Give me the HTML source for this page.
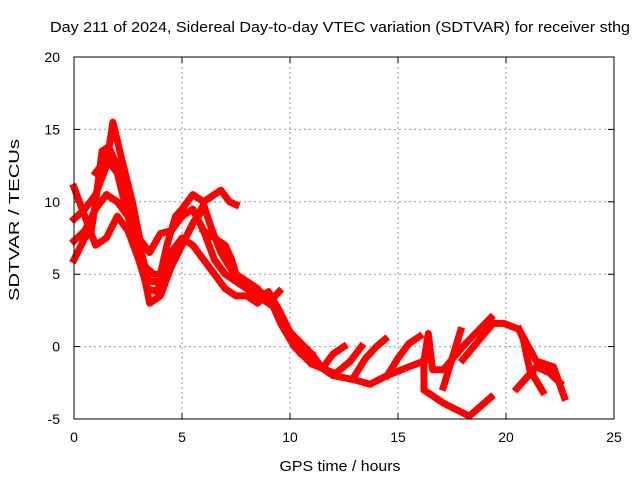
<!DOCTYPE html>
<html><head><meta charset="utf-8"><style>
body{margin:0;background:#fff}
svg{display:block;font-family:"Liberation Sans",sans-serif}
</style></head><body>
<svg width="640" height="480" viewBox="0 0 640 480">
<text x="340" y="32" font-size="15" text-anchor="middle" textLength="580" lengthAdjust="spacingAndGlyphs">Day 211 of 2024, Sidereal Day-to-day VTEC variation (SDTVAR) for receiver sthg</text>
<g id="grid"></g>
<g id="ticks"></g>
<g id="series"></g>
<rect x="74" y="57" width="540" height="362" fill="none" stroke="#000" stroke-width="1"/>
<text x="340" y="471" font-size="15" text-anchor="middle" textLength="121" lengthAdjust="spacingAndGlyphs">GPS time / hours</text>
<text x="19" y="220" font-size="15" text-anchor="middle" textLength="162" lengthAdjust="spacingAndGlyphs" transform="rotate(-90 19 220)">SDTVAR / TECUs</text>
</svg>
<script>
const xTicks=[0,5,10,15,20,25];
const yTicks=[-5,0,5,10,15,20];
const trackA=[[0,8.8],[0.5,9.5],[1,10.5],[1.5,12.5],[1.8,15.5],[2.2,13],[2.7,10],[3.1,7],[3.3,4.5],[3.5,3],[4,3.5],[4.5,5.5],[5,7],[5.5,8.5],[6,9.5]];
const trackB=[[0,6],[0.5,7.5],[0.8,8],[1,10],[1.3,13.5],[1.6,13.8],[2,12.5],[2.5,10],[3,7],[3.3,5.5],[3.7,5],[4,5],[4.3,7],[4.7,9],[5,9.5],[5.5,10.5],[6,10],[6.5,10.5],[6.8,10.8],[7.2,10],[7.5,9.8]];
const trackC=[[0,7.3],[0.5,8],[1,9.5],[1.5,10.5],[2,10],[2.5,9],[3,7.5],[3.5,6.5],[4,7.8],[4.5,8],[5,9],[5.5,9.5],[6,8],[6.5,6],[7,5],[7.5,4.5],[8,4],[8.5,3.5],[9,3],[9.5,2.5],[10,1],[10.5,0],[11,-0.5]];
const trackD=[[0,11],[0.5,9],[1,7],[1.5,7.5],[2,9],[2.5,8],[3,6],[3.5,4.5],[4,4.5],[4.5,6.5],[5,7.5],[5.5,7],[6,6],[6.5,5],[7,4],[7.5,3.5],[8,3.5],[8.5,3],[9,3.8],[9.5,2.5],[10,0.5],[10.5,-0.5],[11,-1],[12,-2],[13,-2.3],[13.7,-2.6],[14.5,-2],[15.5,-1.4],[16.2,-1]];
const trackE=[[6,8],[6.5,7.5],[7,7],[7.3,6],[7.5,5],[8,4.5],[8.5,4],[9,3],[9.5,3.8]];
const trackP=[[1,12],[1.5,13],[2,12],[2.5,9],[3,6],[3.4,4],[3.8,3.8],[4.2,5],[4.6,6.5],[5,7],[5.5,8.5],[6,9.8],[6.4,8],[6.8,6.5],[7.2,5.5],[7.7,4.5],[8.3,4],[9,3.5],[9.6,1.5],[10.2,0],[11,-1.2],[12,-1.8]];
const trackF=[[10,1],[11,-0.5],[11.5,-1.5],[12,-0.5],[12.5,0]];
const trackG=[[11.5,-1.5],[12,-2],[12.8,-1],[13.3,0]];
const trackH=[[13,-2],[13.5,-0.8],[14,0],[14.4,0.5]];
const trackI=[[14.5,-2],[15,-0.8],[15.5,0.2],[16,0.7]];
const trackJ=[[16.2,-1],[16.4,0.9],[16.6,-1.6],[17.1,-1.6],[18,0],[19.3,2]];
const trackK=[[16.2,-1],[16.2,-3],[17.1,-3.9],[18.3,-4.8],[19.3,-3.5]];
const trackL=[[17.1,-2.8],[17.9,1.1]];
const trackM=[[18,-0.9],[19.4,1.6],[19.9,1.6],[20.6,1.2],[21.4,-1],[22.2,-1.4],[22.7,-3.5]];
const trackN=[[20.6,1.2],[20.8,0.5],[21.1,-1.6],[21.7,-3.1]];
const trackO=[[20.5,-2.9],[21.4,-1.4],[22,-1.8],[22.5,-2.5]];
const tracks=[trackA,trackB,trackC,trackD,trackE,trackP,trackF,trackG,trackH,trackI,trackJ,trackK,trackL,trackM,trackN,trackO];
const NS="http://www.w3.org/2000/svg";
const X=h=>74+h*540/25, Y=v=>57+(20-v)*362/25;
const grid=document.getElementById('grid'),ticks=document.getElementById('ticks'),ser=document.getElementById('series');
function mk(tag,attrs,parent){const e=document.createElementNS(NS,tag);for(const k in attrs)e.setAttribute(k,attrs[k]);parent.appendChild(e);return e;}
xTicks.forEach(t=>{
 if(t>0&&t<25){const l=mk('line',{x1:X(t),x2:X(t),y1:57,y2:419,stroke:'#999','stroke-dasharray':'2,3'},grid);
 
 }
 mk('line',{x1:X(t),x2:X(t),y1:419,y2:413,stroke:'#000'},ticks);
 mk('line',{x1:X(t),x2:X(t),y1:57,y2:63,stroke:'#000'},ticks);
 const tx=mk('text',{x:X(t),y:442,'font-size':14,'text-anchor':'middle'},ticks);tx.textContent=t;
 
 
});
yTicks.forEach(t=>{
 if(t>-5&&t<20){const l=mk('line',{x1:74,x2:614,y1:Y(t),y2:Y(t),stroke:'#999','stroke-dasharray':'2,3'},grid);
 
 }
 mk('line',{x1:74,x2:80,y1:Y(t),y2:Y(t),stroke:'#000'},ticks);
 mk('line',{x1:608,x2:614,y1:Y(t),y2:Y(t),stroke:'#000'},ticks);
 const tx=mk('text',{x:60,y:Y(t)+5,'font-size':14,'text-anchor':'end'},ticks);tx.textContent=t;
 
 
});
tracks.forEach(tr=>{
 const p=mk('polyline',{points:tr.map(d=>X(d[0])+','+Y(d[1])).join(' '),fill:'none',stroke:'#ff0000','stroke-width':7,'stroke-linejoin':'round','stroke-linecap':'square'},ser);
 
 
});
</script>
</body></html>
